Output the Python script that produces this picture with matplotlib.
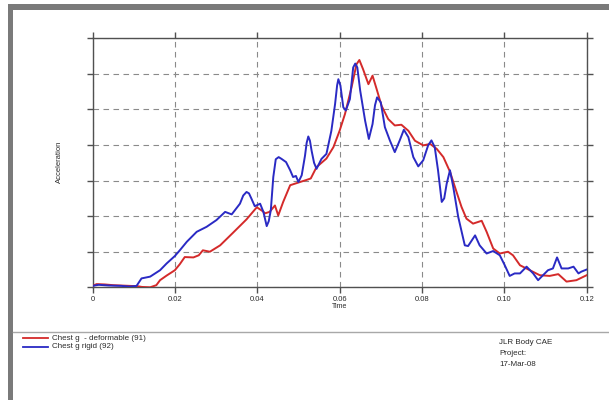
import matplotlib
matplotlib.use("Agg")
import matplotlib.pyplot as plt
from matplotlib.patches import Rectangle
from matplotlib.lines import Line2D

plt.rcParams['font.family'] = ['Liberation Sans', 'DejaVu Sans']

# Chest acceleration traces (time in s, acceleration in g)
t_deformable = [0.000, 0.001, 0.003, 0.005, 0.007, 0.009, 0.011, 0.012, 0.014, 0.0155,
                0.0164, 0.018, 0.020, 0.0212, 0.0224, 0.0245, 0.0258, 0.0268, 0.0285, 0.031,
                0.034, 0.0374, 0.0399, 0.0412, 0.0419, 0.043, 0.0443, 0.0451, 0.0463, 0.048,
                0.0496, 0.052, 0.053, 0.0544, 0.0568, 0.0585, 0.060, 0.0613, 0.0629, 0.0641,
                0.0648, 0.0657, 0.067, 0.068, 0.069, 0.0702, 0.0718, 0.0734, 0.075, 0.0767,
                0.0783, 0.0803, 0.082, 0.0836, 0.0852, 0.0868, 0.0884, 0.0896, 0.0908, 0.0924,
                0.0945, 0.0957, 0.0973, 0.0989, 0.1009, 0.1021, 0.1038, 0.1062, 0.1086, 0.111,
                0.1131, 0.1151, 0.1175, 0.120]
g_deformable = [0.4, 0.9, 0.8, 0.6, 0.5, 0.4, 0.3, 0.1, 0.0, 0.6,
                2.0, 3.3, 4.8, 6.5, 8.5, 8.4, 9.0, 10.4, 10.0, 11.8,
                15.2, 19.1, 22.5, 21.5, 20.8, 21.2, 23.0, 20.2, 24.0, 28.7,
                29.3, 30.2, 30.6, 33.8, 36.2, 39.4, 44.0, 48.7, 56.2, 62.7,
                63.9, 61.3, 57.1, 59.5, 55.7, 51.0, 47.3, 45.5, 45.7, 44.0,
                41.2, 39.9, 40.3, 38.9, 36.6, 32.5, 26.8, 22.6, 19.3, 17.9,
                18.7, 15.6, 10.9, 9.5, 10.0, 9.0, 6.2, 4.8, 3.4, 3.2,
                3.7, 1.6, 2.0, 3.4]

t_rigid = [0.000, 0.0015, 0.004, 0.007, 0.009, 0.0107, 0.0119, 0.014, 0.0164, 0.018,
           0.020, 0.0212, 0.0229, 0.0253, 0.0277, 0.0301, 0.0322, 0.0338, 0.0358, 0.0366,
           0.0374, 0.0380, 0.0386, 0.0394, 0.0407, 0.0415, 0.0423, 0.0428, 0.0433, 0.0439,
           0.0445, 0.0452, 0.0459, 0.047, 0.048, 0.0487, 0.0494, 0.050, 0.0508, 0.0516,
           0.0520, 0.0524, 0.0528, 0.0532, 0.0538, 0.0544, 0.0556, 0.0568, 0.058, 0.0589,
           0.0594, 0.0597, 0.0602, 0.0609, 0.0615, 0.0625, 0.0633, 0.0638, 0.0643, 0.065,
           0.0662, 0.0671, 0.068, 0.0686, 0.0691, 0.070, 0.071, 0.0722, 0.0734, 0.0746,
           0.0756, 0.0767, 0.0779, 0.0791, 0.0803, 0.0815, 0.0823, 0.0831, 0.0839, 0.0848,
           0.0854, 0.086, 0.0868, 0.0876, 0.0888, 0.0904, 0.0912, 0.0929, 0.094, 0.0957,
           0.0973, 0.0989, 0.1001, 0.1013, 0.1025, 0.1038, 0.1054, 0.107, 0.1082, 0.1094,
           0.1106, 0.1118, 0.1128, 0.1139, 0.1155, 0.1168, 0.118, 0.1187, 0.120]
g_rigid = [0.4, 0.7, 0.5, 0.4, 0.2, 0.4, 2.5, 3.0, 4.8, 6.7,
           8.8, 10.4, 12.8, 15.6, 17.0, 18.9, 21.2, 20.5, 23.5, 25.8,
           26.8, 26.4, 24.9, 22.8, 23.5, 21.2, 17.2, 18.6, 21.7, 31.0,
           36.0, 36.6, 36.1, 35.2, 32.9, 31.0, 31.3, 29.6, 31.5, 37.0,
           40.6, 42.4, 41.2, 38.4, 35.0, 33.3, 36.1, 37.5, 44.0, 51.5,
           56.8, 58.5, 56.7, 50.6, 49.7, 52.9, 61.8, 62.9, 61.8, 55.3,
           46.8, 41.7, 45.9, 51.2, 53.4, 52.0, 45.0, 41.3, 38.0, 41.3,
           44.3, 42.2, 36.6, 34.0, 35.7, 39.9, 41.3, 39.4, 32.9, 24.0,
           25.0, 29.1, 32.9, 28.2, 19.8, 11.8, 11.6, 14.6, 11.8, 9.5,
           10.2, 9.0, 6.2, 3.2, 3.9, 3.9, 5.8, 3.9, 2.0, 3.4,
           4.8, 5.3, 8.4, 5.3, 5.3, 5.8, 3.9, 4.4, 5.0]

x_ticks = [0.0, 0.02, 0.04, 0.06, 0.08, 0.10, 0.12]
x_tick_labels = ['0', '0.02', '0.04', '0.06', '0.08', '0.10', '0.12']
y_ticks = [0, 10, 20, 30, 40, 50, 60, 70]

legend_labels = ['Chest g  - deformable (91)', 'Chest g rigid (92)']
info_lines = ['JLR Body CAE', 'Project:', '17-Mar-08']

RED = '#d42a2a'
BLUE = '#2a2ac4'
SPINE = '#505050'
TEXT = '#2a2a2a'

W, H = 609, 403
fig = plt.figure(figsize=(W / 100, H / 100), dpi=100)
fig.patch.set_facecolor('white')


def fx(px):
    return px / W


def fy(py):
    return 1 - py / H


# page frame: grey band along the top and the left edge
fig.patches.append(Rectangle((fx(7.5), fy(9.5)), fx(609) - fx(7.5), fy(3.5) - fy(9.5),
                             transform=fig.transFigure, facecolor='#7a7a7a',
                             edgecolor='none', zorder=0))
fig.patches.append(Rectangle((fx(7.5), fy(400)), fx(12.5) - fx(7.5), fy(3.5) - fy(400),
                             transform=fig.transFigure, facecolor='#7a7a7a',
                             edgecolor='none', zorder=0))
# separator above the legend block
fig.lines.append(Line2D([fx(12.5), fx(609)], [fy(331.5), fy(331.5)],
                        transform=fig.transFigure, color='#a8a8a8', lw=1.0))

ax_l, ax_r, ax_t, ax_b = 92.5, 586.7, 38.3, 287.3
ax = fig.add_axes([fx(ax_l), fy(ax_b), fx(ax_r) - fx(ax_l), fy(ax_t) - fy(ax_b)])

ax.plot(t_deformable, g_deformable, color=RED, lw=1.4, zorder=3,
        solid_joinstyle='round')
ax.plot(t_rigid, g_rigid, color=BLUE, lw=1.4, zorder=4,
        solid_joinstyle='round')

ax.set_xlim(0, 0.12)
ax.set_ylim(0, 70)
ax.set_xticks(x_ticks)
ax.set_xticklabels(x_tick_labels)
ax.set_yticks(y_ticks)
ax.set_yticklabels([])

ax.grid(True, color='#8a8a8a', linestyle=(0, (5, 4)), lw=0.8)
ax.set_axisbelow(True)

for side in ('left', 'right', 'top', 'bottom'):
    ax.spines[side].set_color(SPINE)
    ax.spines[side].set_linewidth(1.0)

ax.tick_params(axis='both', which='major', direction='out', length=4.5, width=1.0,
               color=SPINE, top=True, right=True, labelsize=5.5, pad=2,
               labelcolor=TEXT)

ax.text(0.06, -0.077, 'Time', transform=ax.get_xaxis_transform(), ha='center',
        va='center', fontsize=5, color=TEXT)
fig.text(fx(59), fy(162), 'Acceleration', rotation=90, ha='center', va='center',
         fontsize=5.5, color=TEXT)

# legend block
for i, (lab, col) in enumerate(zip(legend_labels, [RED, BLUE])):
    yy = 338 + i * 8.5
    fig.lines.append(Line2D([fx(23), fx(48)], [fy(yy), fy(yy)],
                            transform=fig.transFigure, color=col, lw=1.3))
    fig.text(fx(52), fy(yy), lab, ha='left', va='center', fontsize=5.8, color=TEXT)

for i, line in enumerate(info_lines):
    fig.text(fx(499), fy(343 + i * 10.5), line, ha='left', va='center',
             fontsize=5.8, color=TEXT)

fig.savefig('out.png', dpi=100)
